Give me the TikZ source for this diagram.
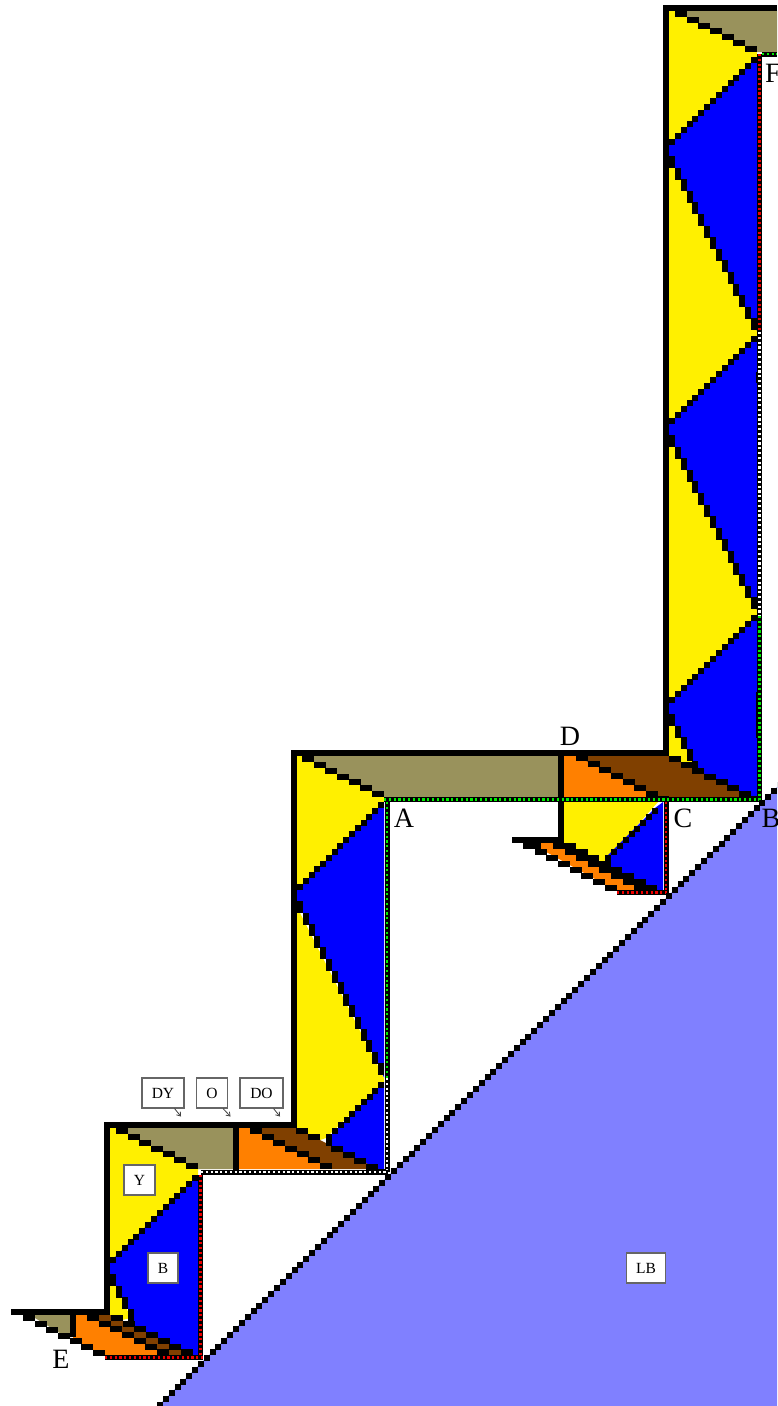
\documentclass[tikz,border=0pt]{standalone}
\usepackage{fontspec}
\setmainfont{Liberation Serif}
\usetikzlibrary{arrows.meta}
\definecolor{cy}{HTML}{FFF000}
\definecolor{cb}{HTML}{0000FF}
\definecolor{co}{HTML}{FF8000}
\definecolor{cr}{HTML}{804000}
\definecolor{cv}{HTML}{99925C}
\definecolor{clb}{HTML}{8080FF}
\definecolor{cg}{HTML}{00F000}
\definecolor{cd}{HTML}{F00000}
% \stair{x0}{y0}{dx}{dy}{w}{h}{n}: n black blocks on a line
\newcommand{\stair}[7]{%
  \foreach \i in {1,...,#7}{%
    \pgfmathsetmacro{\xa}{#1+(\i-1)*(#3)}%
    \pgfmathsetmacro{\ya}{#2+(\i-1)*(#4)}%
    \fill[black] (\xa,\ya) rectangle ++(#5,#6);
  }}
% \seam{colour}{start}{end}: black seam carrying a dotted line
\newcommand{\seam}[3]{%
  \draw[seamback] #2 -- #3;
  \draw[seamdots,#1] #2 -- #3;}
\tikzset{
  seamback/.style={draw=black,line width=5pt},
  seamdots/.style={line width=2.1pt,dash pattern=on 2.1pt off 2.7pt},
  wall/.style={draw=black,line width=6pt,miter limit=10},
  big/.style={font=\fontsize{28}{30}\selectfont,inner sep=0pt,anchor=base},
  tag/.style={draw=black!60,fill=white,line width=1.1pt,inner sep=0pt,minimum height=30pt,font=\fontsize{15.5}{17}\selectfont},
  pointer/.style={draw=black!75,line width=0.8pt,-{Straight Barb[length=3.5pt,width=5pt]}}
}
\begin{document}
\begin{tikzpicture}[x=1pt,y=-1pt]
\useasboundingbox (0,0) rectangle (777,1406);
\clip (0,0) rectangle (777,1406);
\fill[white] (0,0) rectangle (777,1406);

% ---- main column
\fill[cy] (669,11) rectangle (757,797);
\fill[cv] (675,11) -- (777,11) -- (777,52) -- (757,52) -- cycle;
\foreach \k in {0,279}{
  \fill[cb] (757,57+\k) -- (669,145+\k) -- (669,156+\k) -- (672,162+\k) -- (754,325+\k) -- (757,331+\k) -- cycle;
}
\fill[cb] (757,615) -- (669,703) -- (669,714) -- (672,720) -- (690,756) -- (696,770) -- (751,797) -- (757,797) -- cycle;
% D band
\fill[co] (564,756) -- (576,756) -- (658,797) -- (564,797) -- cycle;
\fill[cr] (576,756) -- (669,756) -- (751,797) -- (658,797) -- cycle;
\fill[cv] (302,756) -- (558,756) -- (558,797) -- (384,797) -- cycle;
% ---- column A
\fill[cy] (297,756) -- (302,756) -- (384,797) -- (384,802) -- (297,890) -- cycle;
\fill[cb] (384,802) -- (297,890) -- (297,901) -- (300,907) -- (381,1070) -- (384,1078) -- cycle;
\fill[cy] (297,907) -- (384,1078) -- (384,1082) -- (326,1138) -- (320,1140) -- (297,1128) -- cycle;
\fill[cb] (384,1082) -- (329,1137) -- (329,1146) -- (337,1149) -- (378,1169) -- (384,1169) -- cycle;
\fill[co] (239,1128) -- (250,1128) -- (331,1169) -- (239,1169) -- cycle;
\fill[cr] (250,1128) -- (296,1128) -- (378,1169) -- (331,1169) -- cycle;
\fill[cv] (116,1128) -- (233,1128) -- (233,1169) -- (198,1169) -- cycle;
% ---- column E
\fill[cy] (110,1128) -- (116,1128) -- (198,1169) -- (198,1175) -- (110,1262) -- cycle;
\fill[cb] (198,1175) -- (113,1259) -- (110,1262) -- (110,1274) -- (113,1280) -- (131,1315) -- (131,1325) -- (192,1355) -- (198,1355) -- cycle;
\fill[cy] (110,1280) -- (113,1280) -- (131,1318) -- (122,1320) -- (110,1315) -- cycle;
\fill[co] (73,1315) -- (87,1315) -- (168,1355) -- (105,1356) -- (73,1339) -- cycle;
\fill[cr] (87,1315) -- (111,1315) -- (192,1355) -- (168,1355) -- cycle;
\fill[cv] (30,1315) -- (70,1315) -- (70,1338) -- (58,1332) -- cycle;
% ---- column C
\fill[cy] (564,802) -- (658,802) -- (608,858) -- (603,862) -- (564,846) -- cycle;
\fill[cb] (655,808) -- (663,802) -- (663,890) -- (645,890) -- (611,868) -- (605,858) -- cycle;
\fill[co] (530,843) -- (564,843) -- (650,890) -- (615,890) -- cycle;

% ---- stairs: main column
\stair{675}{11}{11.67}{5.83}{12}{6}{7}
\foreach \k in {0,279,558}{
  \stair{751}{57+\k}{-5.857}{5.857}{6}{6}{15}
}
\foreach \k in {0,279}{
  \stair{669}{156+\k}{5.857}{11.6}{6}{12}{15}
}
\stair{669}{714}{5.857}{11.7}{6}{12}{5}
\stair{576}{755}{11.67}{6}{12}{6}{7}
\stair{669}{756}{11.67}{5.83}{12}{6}{7}
\stair{751}{796}{0}{0}{6}{4}{1}
\stair{657}{796}{0}{0}{12}{4}{1}
\stair{755.5}{372}{0}{0}{2}{11}{1}
\stair{755.5}{692}{0}{0}{2}{46}{1}
% stairs: column A
\stair{302}{756}{11.67}{5.83}{12}{6}{7}
\stair{378}{802}{-5.79}{5.86}{6}{6}{15}
\stair{297}{901}{5.79}{11.6}{6}{12}{15}
\stair{378}{1082}{-5.75}{5.75}{6}{6}{9}
\stair{326}{1134}{0}{0}{5.5}{12}{1}
\stair{296}{1128}{11.67}{5.83}{12}{6}{2}
\stair{331}{1146}{11.67}{5.83}{12}{6}{4}
\stair{378}{1169}{0}{0}{8}{3}{1}
\stair{250}{1128}{11.67}{5.83}{12}{6}{7}
% stairs: column E
\stair{116}{1128}{11.67}{5.83}{12}{6}{7}
\stair{192}{1175}{-5.86}{5.86}{6}{6}{15}
\stair{110}{1274}{5.9}{11.7}{6}{12}{4}
\stair{87}{1315}{11.67}{5.7}{12}{6}{7}
\stair{111}{1315}{11.67}{5.7}{12}{6}{7}
\stair{23}{1315}{11.67}{5.83}{12}{6}{7}
% stairs: column C
\stair{523}{843}{11.67}{6}{12}{6}{8}
\stair{530}{843}{0}{0}{11}{6}{1}
\stair{553}{843}{11.6}{6}{23}{6}{8}
\stair{652}{808}{-5.87}{5.87}{6}{6}{9}

% ---- thick walls
\draw[wall] (777,8) -- (666,8) -- (666,753) -- (294,753) -- (294,1125) -- (107,1125) -- (107,1312) -- (11,1312);
\draw[wall] (561,753) -- (561,840) -- (512,840);
\draw[wall] (236,1125) -- (236,1170);
\draw[wall] (73,1312) -- (73,1337);

% ---- dotted seams
\seam{cd}{(759.5,54)}{(759.5,332)}
\seam{white}{(759.5,332)}{(759.5,616)}
\seam{cg}{(759.5,616)}{(759.5,802)}
\seam{cg}{(762,54)}{(777,54)}
\seam{cg}{(384,799.5)}{(760,799.5)}
\seam{cg}{(387,802)}{(387,1078)}
\seam{white}{(387,1078)}{(387,1172)}
\seam{white}{(201,1172)}{(388,1172)}
\seam{cd}{(200.5,1175)}{(200.5,1358)}
\seam{cd}{(105,1357.5)}{(203,1357.5)}
\seam{cd}{(666,802)}{(666,892)}
\seam{cd}{(617,892.5)}{(669,892.5)}

% ---- lower-right plane
\fill[clb] (777,787) -- (777,1406) -- (158,1406) -- cycle;
\stair{157}{1402}{5.849}{-5.849}{6}{6}{107}

% ---- labels
\node[big] (lA) at (404,827) {A};
\node[big] (lB) at (771,827) {B};
\node[big] (lC) at (683,827) {C};
\node[big] (lD) at (570,745) {D};
\node[big] (lE) at (61,1368) {E};
\node[big] (lF) at (773,82) {F};
\node[tag,minimum width=42pt] (dy) at (163,1093) {DY};
\node[tag,minimum width=31pt] (o) at (212,1093) {O};
\node[tag,minimum width=43pt] (do) at (261.5,1093) {DO};
\node[tag,minimum width=31pt] (y) at (139.5,1180) {Y};
\node[tag,minimum width=30pt] (b) at (163,1268) {B};
\node[tag,minimum width=39pt] (lb) at (646,1268) {LB};
\coordinate (dyt) at (181,1116.5);
\coordinate (ot) at (230.5,1116.5);
\coordinate (dot) at (280,1116.5);
\draw[pointer] (dy.south east) ++(-10,0) coordinate (dys) -- (dyt);
\draw[pointer] (o.south east) ++(-5,0) coordinate (os) -- (ot);
\draw[pointer] (do.south east) ++(-10,0) coordinate (dos) -- (dot);
\end{tikzpicture}
\end{document}
